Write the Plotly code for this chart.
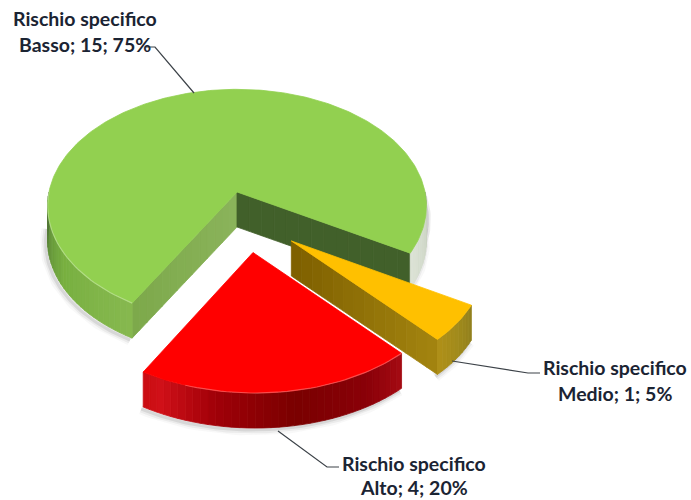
import numpy as np
import plotly.graph_objects as go

# ---- data ----
categories = ["Basso", "Medio", "Alto"]
series_name = "Rischio specifico"
counts = [15, 1, 4]

# ---- styles / scene ----
top_colors = ["#92d050", "#ffc000", "#ff0000"]
explode_uv = [(0.0, 0.0), (0.275, 0.405), (0.08, 0.495)]
radius_scale = [(1.0, 1.0), (0.97, 0.95), (1.0, 0.95)]
start_angle = 210.0
CX, CY, RX, RY, K, DEPTH = 237.0, 192.0, 188.0, 115.0, 0.12, 35.0

wall_stops = [
    [(90, "#8f9a8c"), (100, "#cdd6c6"), (120, "#dde3d6"), (210, "#86b84f"),
     (240, "#78b040"), (258, "#608f38"), (272, "#4f6f38")],
    [(119, "#8f7f20"), (128, "#a08a1c"), (138, "#b09018")],
    [(137, "#a80c14"), (150, "#8a0008"), (170, "#7a0000"), (190, "#a00008"),
     (205, "#d01018"), (211, "#c80c10")],
]
face_styles = [
    {"start": ("#8ab35a", "#7ca84a"), "end": ("#41602a", "#41602a")},
    {"end": ("#7f6000", "#a58610")},
    {},
]


def hex2rgb(h):
    return np.array([int(h[i:i + 2], 16) for i in (1, 3, 5)], float)


def rgb2hex(c):
    return "#%02x%02x%02x" % tuple(int(round(max(0, min(255, v)))) for v in c)


def mix(stops, t):
    xs = [s[0] for s in stops]
    cs = np.array([hex2rgb(s[1]) for s in stops])
    return np.array([np.interp(t, xs, cs[:, i]) for i in range(3)])


def project(u, v, z=0.0):
    s = 1.0 / (1.0 - K * v)
    return CX + RX * u * s, CY + RY * v * s + z


def rim(theta, off, scale=(1.0, 1.0), z=0.0):
    r = np.radians(theta)
    return project(off[0] + scale[0] * np.sin(r), off[1] - scale[1] * np.cos(r), z)


fig = go.Figure()


def poly(xs, ys, color):
    fig.add_trace(go.Scatter(x=list(xs), y=list(ys), mode="lines", fill="toself",
                             fillcolor=color, line=dict(color=color, width=0.8),
                             hoverinfo="skip", showlegend=False))


def quad(p0, p1, z0, z1, color):
    poly([p0[0], p1[0], p1[0], p0[0], p0[0]],
         [p0[1] + z0, p1[1] + z0, p1[1] + z1, p0[1] + z1, p0[1] + z0], color)


total = sum(counts)
spans = [c / total * 360.0 for c in counts]
starts = start_angle + np.cumsum([0] + spans[:-1])


def visible(a0, a1):
    out = []
    for lo, hi in ((90, 270), (450, 630)):
        s, e = max(a0, lo), min(a1, hi)
        if e > s:
            out.append((s, e))
    return out


# soft shadows first
for a0, sp, off, sc in zip(starts, spans, explode_uv, radius_scale):
    for s0, s1 in visible(a0, a0 + sp):
        th = np.linspace(s0, s1, 60)
        pts = [rim(t, off, sc, DEPTH) for t in th]
        xs = [p[0] - 2 for p in pts]
        ys = [p[1] + 2 for p in pts]
        for w, al in ((11, 0.04), (7, 0.07), (3, 0.12)):
            fig.add_trace(go.Scatter(x=xs, y=ys, mode="lines",
                                     line=dict(color=f"rgba(70,70,70,{al})", width=w),
                                     hoverinfo="skip", showlegend=False))
# right-hand shadow of the big slice
th = np.linspace(65, 122, 40)
pts = [rim(t, explode_uv[0], radius_scale[0], 14) for t in th]
for w, al in ((7, 0.12), (3, 0.2)):
    fig.add_trace(go.Scatter(x=[p[0] + 1 for p in pts], y=[p[1] for p in pts], mode="lines",
                             line=dict(color=f"rgba(90,90,90,{al})", width=w),
                             hoverinfo="skip", showlegend=False))

# slices
for a0, sp, off, sc, top, stops, faces in zip(starts, spans, explode_uv, radius_scale,
                                              top_colors, wall_stops, face_styles):
    a1 = a0 + sp
    apex = project(off[0], off[1])
    # inner faces
    for key, ang in (("start", a0), ("end", a1)):
        st = faces.get(key)
        if not st:
            continue
        edge = rim(ang, off, sc)
        n = 14
        for i in range(n):
            f0, f1 = i / n, (i + 1) / n
            p0 = (apex[0] + (edge[0] - apex[0]) * f0, apex[1] + (edge[1] - apex[1]) * f0)
            p1 = (apex[0] + (edge[0] - apex[0]) * f1, apex[1] + (edge[1] - apex[1]) * f1)
            c = hex2rgb(st[0]) * (1 - f0) + hex2rgb(st[1]) * f0
            quad(p0, p1, 0, DEPTH, rgb2hex(c))
    # outer wall (only the side turned to the viewer)
    for s0, s1 in visible(a0, a1):
        n = max(6, int((s1 - s0) / 2))
        ed = np.linspace(s0, s1, n + 1)
        for t0, t1 in zip(ed[:-1], ed[1:]):
            tm = (0.5 * (t0 + t1)) % 360
            c = mix(stops, tm)
            p0, p1 = rim(t0, off, sc), rim(t1, off, sc)
            quad(p0, p1, 0, DEPTH, rgb2hex(c))
    # top face
    th = np.linspace(a0, a1, max(12, int(sp)))
    pts = [rim(t, off, sc) for t in th]
    poly([apex[0]] + [p[0] for p in pts] + [apex[0]],
         [apex[1]] + [p[1] for p in pts] + [apex[1]], top)
    # rim highlight on the front edge
    if top != "#ffc000":
        th = np.linspace(a0, a0 + min(sp, 60), 40)
        pts = [rim(t, off, sc) for t in th]
        fig.add_trace(go.Scatter(x=[p[0] for p in pts], y=[p[1] for p in pts], mode="lines",
                                 line=dict(color="rgba(255,255,255,0.28)", width=1.2),
                                 hoverinfo="skip", showlegend=False))

# labels
TXT = "#1b2433"
label_pos = [(85, 18, 44), (615, 367, 393), (414, 463, 487)]
font = dict(family="Lato", size=19.5, color=TXT)
anns = []
for name, cnt, (x, y1, y2) in zip(categories, counts, label_pos):
    pct = round(cnt / total * 100)
    anns.append(dict(x=x, y=y1, text=f"<b>{series_name}</b>", showarrow=False, font=font,
                     xref="x", yref="y", xanchor="center", yanchor="middle"))
    anns.append(dict(x=x, y=y2, text=f"<b>{name}; {cnt}; {pct}%</b>", showarrow=False, font=font,
                     xref="x", yref="y", xanchor="center", yanchor="middle"))

# leader lines
leaders = [[(146, 47), (155, 47), (194, 93)],
           [(452, 361), (528, 373), (540, 373)],
           [(278, 431), (327, 467), (339, 467)]]
for ld in leaders:
    fig.add_trace(go.Scatter(x=[p[0] for p in ld], y=[p[1] for p in ld], mode="lines",
                             line=dict(color="#3c4248", width=1.2),
                             hoverinfo="skip", showlegend=False))

fig.update_layout(
    width=691, height=500, margin=dict(l=0, r=0, t=0, b=0),
    paper_bgcolor="white", plot_bgcolor="white", showlegend=False,
    xaxis=dict(range=[0, 691], visible=False, fixedrange=True),
    yaxis=dict(range=[500, 0], visible=False, fixedrange=True),
    annotations=anns,
)
fig.write_html("out.html", config={"displayModeBar": False},
               post_script="document.body.style.margin='0';document.body.style.overflow='hidden';")
